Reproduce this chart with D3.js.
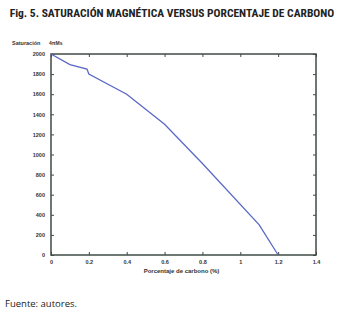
<!DOCTYPE html>
<html>
<head>
<meta charset="utf-8">
<script src="https://cdn.jsdelivr.net/npm/d3@7"></script>
<style>
  body { margin: 0; background: #fff; }
  svg text { font-family: "Liberation Sans", Arial, sans-serif; }
</style>
</head>
<body>
<div id="chart"></div>
<script>
// Data
const carbon = [0, 0.1, 0.19, 0.2, 0.4, 0.6, 0.8, 1.1, 1.2];
const saturation = [2000, 1895, 1850, 1800, 1600, 1300, 910, 300, 0];
const xTicks = [0, 0.2, 0.4, 0.6, 0.8, 1, 1.2, 1.4];
const yTicks = [0, 200, 400, 600, 800, 1000, 1200, 1400, 1600, 1800, 2000];

function createChart() {
    const W = 340, H = 320;
    const margin = { top: 54, right: 24, bottom: 65, left: 51 };
    const width = W - margin.left - margin.right;
    const height = H - margin.top - margin.bottom;
    const axisColor = "#3f4b43";

    const svg = d3.select("#chart").append("svg")
        .attr("width", W)
        .attr("height", H);

    // Title
    svg.append("text")
        .attr("x", 172)
        .attr("y", 17)
        .attr("text-anchor", "middle")
        .style("font-family", "'Liberation Sans Narrow', 'Roboto Condensed', sans-serif")
        .style("font-size", "11.5px")
        .style("font-weight", "bold")
        .style("fill", "#222")
        .text("Fig. 5. SATURACIÓN MAGNÉTICA VERSUS PORCENTAJE DE CARBONO");

    const g = svg.append("g")
        .attr("transform", `translate(${margin.left},${margin.top})`);

    const x = d3.scaleLinear().domain([0, 1.4]).range([0, width]);
    const y = d3.scaleLinear().domain([0, 2000]).range([height, 0]);

    const tickStyle = sel => {
        sel.select(".domain").remove();
        sel.selectAll("line").attr("stroke", axisColor).attr("stroke-width", 1);
        sel.selectAll("text")
            .style("font-size", "5.5px")
            .style("font-weight", "bold")
            .style("fill", "#333");
    };

    // Bottom axis
    g.append("g")
        .attr("transform", `translate(0,${height})`)
        .call(d3.axisBottom(x).tickValues(xTicks).tickFormat(d3.format("")).tickSizeInner(-3).tickSizeOuter(0).tickPadding(5))
        .call(tickStyle);

    // Left axis
    g.append("g")
        .call(d3.axisLeft(y).tickValues(yTicks).tickFormat(d3.format("d")).tickSizeInner(-3).tickSizeOuter(0).tickPadding(6))
        .call(tickStyle);

    // Top and right ticks
    g.append("g")
        .call(d3.axisTop(x).tickValues(xTicks).tickFormat("").tickSizeInner(-3).tickSizeOuter(0))
        .call(tickStyle);
    g.append("g")
        .attr("transform", `translate(${width},0)`)
        .call(d3.axisRight(y).tickValues(yTicks).tickFormat("").tickSizeInner(-3).tickSizeOuter(0))
        .call(tickStyle);

    // Frame
    g.append("rect")
        .attr("width", width)
        .attr("height", height)
        .attr("fill", "none")
        .attr("stroke", axisColor)
        .attr("stroke-width", 1.5);

    // Line
    const pts = carbon.map((c, i) => [c, saturation[i]]);
    g.append("path")
        .datum(pts)
        .attr("fill", "none")
        .attr("stroke", "#5a68c8")
        .attr("stroke-width", 1.3)
        .attr("d", d3.line().x(d => x(d[0])).y(d => y(d[1])));

    // Axis labels
    svg.append("text")
        .attr("x", 12)
        .attr("y", 45)
        .style("font-size", "5.5px")
        .style("font-weight", "bold")
        .style("fill", "#333")
        .text("Saturación");
    svg.append("text")
        .attr("x", 49)
        .attr("y", 45)
        .style("font-size", "5px")
        .style("font-weight", "bold")
        .style("fill", "#333")
        .text("4πMs");

    g.append("text")
        .attr("x", x(0.7) - 2)
        .attr("y", height + 18)
        .attr("text-anchor", "middle")
        .style("font-size", "6px")
        .style("font-weight", "bold")
        .style("fill", "#333")
        .text("Porcentaje de carbono (%)");

    // Source note
    svg.append("text")
        .attr("x", 5)
        .attr("y", 307)
        .style("font-family", "'Open Sans', 'Liberation Sans', sans-serif")
        .style("font-size", "9.5px")
        .style("fill", "#222")
        .text("Fuente: autores.");
}

createChart();
</script>
</body>
</html>
